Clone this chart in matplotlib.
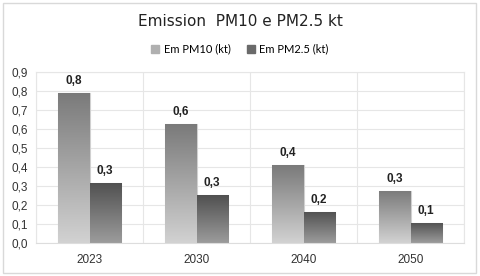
import numpy as np
import matplotlib.pyplot as plt
from matplotlib.patches import Rectangle
from matplotlib.colors import LinearSegmentedColormap

plt.rcParams["font.family"] = ["Liberation Sans", "DejaVu Sans"]

years = ["2023", "2030", "2040", "2050"]
pm10 = [0.79, 0.626, 0.41, 0.275]
pm25 = [0.318, 0.252, 0.165, 0.108]
yticks = [0.0, 0.1, 0.2, 0.3, 0.4, 0.5, 0.6, 0.7, 0.8, 0.9]

fig = plt.figure(figsize=(4.8, 2.76), dpi=100)
fig.patches.append(Rectangle((0.006, 0.012), 0.985, 0.976, transform=fig.transFigure,
                             fill=False, edgecolor="#d9d9d9", linewidth=1.0))
ax = fig.add_axes([36 / 480, 1 - 243.3 / 276, (464 - 36) / 480, (243.3 - 72.3) / 276])

x = np.arange(len(years))
w = 0.29
cm10 = LinearSegmentedColormap.from_list("pm10", ["#d2d2d2", "#7a7a7a"])
cm25 = LinearSegmentedColormap.from_list("pm25", ["#9c9c9c", "#505050"])
grad = np.linspace(0, 1, 256).reshape(-1, 1)

b1 = ax.bar(x - w / 2, pm10, w, color="#a0a0a0", edgecolor="#d0d0d0", linewidth=0.8, zorder=2)
b2 = ax.bar(x + w / 2, pm25, w, color="#6a6a6a", edgecolor="#d0d0d0", linewidth=0.8, zorder=2)

for bars, cmap in ((b1, cm10), (b2, cm25)):
    for r in bars:
        bx, by = r.get_x(), r.get_y()
        bw, bh = r.get_width(), r.get_height()
        im = ax.imshow(grad, cmap=cmap, aspect="auto", origin="lower",
                       extent=(bx, bx + bw, by, by + bh), zorder=2.5)
        im.set_clip_path(r)
        ax.annotate(f"{bh:.1f}".replace(".", ","), (bx + bw / 2, bh), xytext=(0, 4.5),
                    textcoords="offset points", ha="center", va="bottom",
                    fontsize=8.5, fontweight="bold", color="#222222")

ax.set_xlim(-0.5, 3.5)
ax.set_ylim(0, 0.9)
ax.set_yticks(yticks)
ax.set_yticklabels([f"{v:.1f}".replace(".", ",") for v in yticks])
ax.set_xticks(x)
ax.set_xticklabels(years)
ax.set_xticks([-0.5, 0.5, 1.5, 2.5, 3.5], minor=True)
ax.tick_params(axis="both", which="both", length=0, labelsize=8.5, labelcolor="#333333")
ax.tick_params(axis="y", pad=6)
ax.tick_params(axis="x", pad=8)
ax.grid(axis="y", color="#e6e6e6", linewidth=0.8, zorder=0)
ax.grid(axis="x", which="minor", color="#e6e6e6", linewidth=0.8, zorder=0)
for s in ax.spines.values():
    s.set_color("#e6e6e6")
    s.set_linewidth(0.8)
ax.spines["bottom"].set_color("#dddddd")

fig.text(0.5, 1 - 22 / 276, "Emission  PM10 e PM2.5 kt", ha="center", va="center",
         fontsize=11, color="#222222", family="DejaVu Sans")
ax.legend(handles=[Rectangle((0, 0), 1, 1, color="#b0b0b0"), Rectangle((0, 0), 1, 1, color="#6a6a6a")],
          labels=["Em PM10 (kt)", "Em PM2.5 (kt)"], loc="center", bbox_to_anchor=(0.5, 1 - 49 / 276),
          bbox_transform=fig.transFigure, ncol=2, frameon=False, handlelength=0.7,
          handleheight=0.7, columnspacing=1.5, handletextpad=0.4, prop={"family": "Lato", "size": 8})

fig.savefig("out.png", dpi=100)
